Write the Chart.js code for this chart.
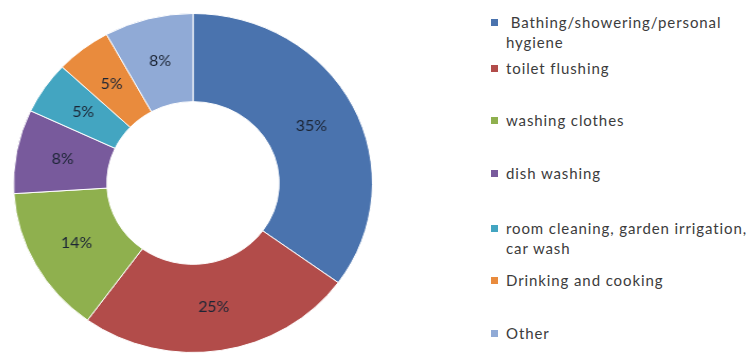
<!DOCTYPE html>
<html>
<head>
<meta charset="utf-8">
<title>Household water use</title>
<script src="https://cdn.jsdelivr.net/npm/chart.js"></script>
<style>
  html, body { margin: 0; padding: 0; background: #fff; }
  #wrap { position: relative; width: 752px; height: 358px; overflow: hidden; }
  /* the reference pie is a bit wider than tall, so stretch the canvas sideways */
  #chart { position: absolute; left: 13px; top: 13px; transform: scaleX(1.0588); transform-origin: 0 0; }
  #legend { position: absolute; left: 0; top: 0; font-family: Lato, "Open Sans", sans-serif; font-size: 15px; letter-spacing: 0.9px; color: #3c3c3c; }
  .item { position: absolute; left: 491px; line-height: 20px; }
  .box { position: absolute; left: 0; top: 7px; width: 7px; height: 7px; }
  .txt { position: absolute; left: 15px; top: 0; white-space: nowrap; }
</style>
</head>
<body>
<div id="wrap">
  <canvas id="chart" width="340" height="340"></canvas>
  <div id="legend"></div>
</div>
<script>
  // data
  const categories = [
    ['\u00a0Bathing/showering/personal', 'hygiene'],
    ['toilet flushing'],
    ['washing clothes'],
    ['dish washing'],
    ['room cleaning, garden irrigation,', 'car wash'],
    ['Drinking and cooking'],
    ['Other']
  ];
  const shares = [35, 25, 14, 8, 5, 5, 8];
  const colors = ['#4A73AE', '#B24C4A', '#8FB04E', '#785A9C', '#43A5C1', '#E98B3D', '#90AAD6'];
  const legendTops = [12, 58, 110, 163, 218, 270, 323];

  // legend as html text
  const legend = document.getElementById('legend');
  categories.forEach((lines, i) => {
    const item = document.createElement('div');
    item.className = 'item';
    item.style.top = legendTops[i] + 'px';
    item.innerHTML = '<div class="box" style="background:' + colors[i] + '"></div>' +
      '<div class="txt">' + lines.join('<br>') + '</div>';
    legend.appendChild(item);
  });

  // percentage labels inside each slice
  const sliceLabels = {
    id: 'sliceLabels',
    afterDatasetsDraw(chart) {
      const ctx = chart.ctx;
      const meta = chart.getDatasetMeta(0);
      ctx.save();
      ctx.font = '15px Lato, "Open Sans", sans-serif';
      ctx.fillStyle = '#1c2535';
      ctx.textAlign = 'center';
      ctx.textBaseline = 'middle';
      meta.data.forEach((arc, i) => {
        const p = arc.tooltipPosition();
        ctx.fillText(shares[i] + '%', p.x, p.y);
      });
      ctx.restore();
    }
  };

  new Chart(document.getElementById('chart'), {
    type: 'doughnut',
    data: {
      labels: categories.map(l => l.join(' ').trim()),
      datasets: [{
        data: shares,
        backgroundColor: colors,
        borderColor: '#ffffff',
        borderWidth: 1
      }]
    },
    options: {
      responsive: false,
      animation: false,
      cutout: '48%',
      layout: { padding: 0 },
      plugins: {
        legend: { display: false },
        tooltip: { enabled: false }
      }
    },
    plugins: [sliceLabels]
  });
</script>
</body>
</html>
